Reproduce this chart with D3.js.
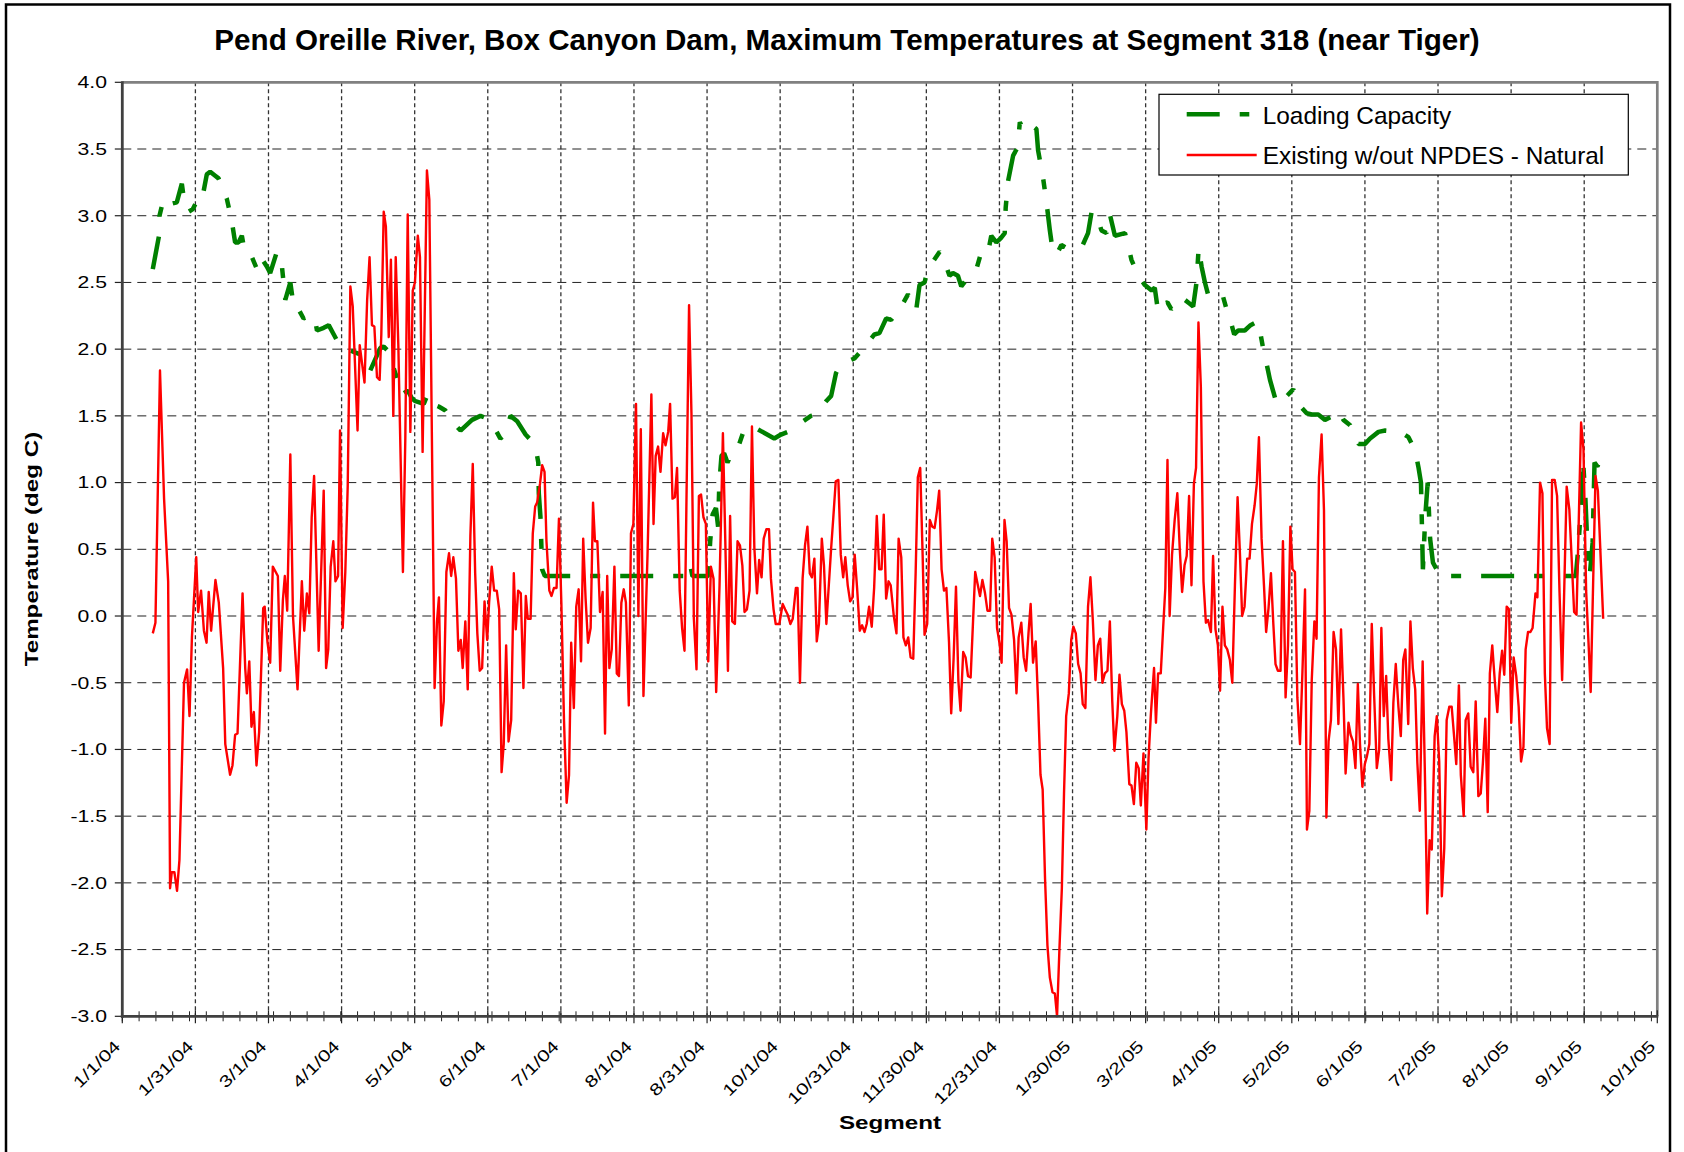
<!DOCTYPE html>
<html>
<head>
<meta charset="utf-8">
<script src="https://cdn.jsdelivr.net/npm/d3@7"></script>
<style>
  body { margin: 0; background: #fff; }
  svg text { font-family: "Liberation Sans", Arial, sans-serif; fill: #000; }
</style>
</head>
<body>
<svg id="chart"></svg>
<script>
// x tick labels (Excel date axis, one label every ~30.45 days from 1/1/04)
const tickLabels = ['1/1/04', '1/31/04', '3/1/04', '4/1/04', '5/1/04', '6/1/04', '7/1/04', '8/1/04',
  '8/31/04', '10/1/04', '10/31/04', '11/30/04', '12/31/04', '1/30/05', '3/2/05', '4/1/05',
  '5/2/05', '6/1/05', '7/2/05', '8/1/05', '9/1/05', '10/1/05'];
const majorStep = 30.45;
const minorStep = 7;
const yTicks = [4.0, 3.5, 3.0, 2.5, 2.0, 1.5, 1.0, 0.5, 0.0, -0.5, -1.0, -1.5, -2.0, -2.5, -3.0];

// [days since 1/1/04, deg C]
const loadingCapacity = [
  [12.7,2.60],[15.3,2.85],[15.5,3.00],[17.1,3.12],[18.5,3.08],[22.7,3.10],[24.8,3.24],[25.7,3.12],
  [27.6,3.03],[29.4,3.05],[31.3,3.12],[33.1,3.11],[35.2,3.31],[36.6,3.33],[38.7,3.30],[40.1,3.28],
  [43.5,3.13],[45.6,2.96],[47.0,2.80],[48.4,2.80],[49.8,2.85],[51.2,2.71],[54.0,2.69],[56.1,2.60],
  [57.7,2.69],[60.2,2.62],[61.6,2.57],[64.4,2.73],[66.5,2.62],[67.9,2.37],[70.0,2.50],[71.4,2.32],
  [72.8,2.32],[75.5,2.23],[78.3,2.25],[80.0,2.25],[81.1,2.14],[83.9,2.16],[86.0,2.18],[88.1,2.11],
  [90.8,2.02],[93.6,2.00],[96.4,1.98],[100.6,1.95],[103.3,1.84],[107.5,2.01],[108.9,2.02],[111.0,1.98],
  [113.7,1.82],[114.4,1.79],[116.5,1.66],[118.9,1.69],[120.7,1.63],[122.1,1.61],[125.6,1.59],[127.2,1.66],
  [129.0,1.59],[131.8,1.57],[134.6,1.54],[138.8,1.43],[140.9,1.39],[145.7,1.47],[149.2,1.50],[152.0,1.48],
  [154.1,1.44],[157.5,1.33],[159.6,1.36],[161.7,1.50],[164.5,1.46],[168.0,1.36],[170.1,1.32],[172.1,1.27],
  [173.3,1.15],[173.5,0.92],[174.2,0.74],[174.9,0.35],[176.0,0.30],[236.0,0.30],[236.6,0.38],[237.5,0.30],
  [244.1,0.30],[244.9,0.56],[245.9,0.76],[247.3,0.81],[248.2,0.67],[248.7,0.99],[249.6,1.20],[250.7,1.22],
  [252.1,1.15],[254.9,1.27],[257.0,1.29],[259.1,1.40],[262.6,1.42],[264.7,1.40],[271.6,1.33],[274.4,1.36],
  [277.2,1.38],[281.3,1.43],[286.9,1.50],[289.0,1.51],[293.2,1.61],[295.3,1.65],[297.3,1.82],[299.4,1.89],
  [302.2,1.91],[305.0,1.93],[308.5,2.00],[313.3,2.11],[315.4,2.12],[318.2,2.23],[320.3,2.22],[323.1,2.28],
  [324.5,2.32],[327.3,2.41],[330.0,2.34],[330.7,2.29],[332.1,2.48],[334.2,2.50],[335.6,2.60],[336.7,2.63],
  [340.5,2.73],[341.9,2.69],[344.6,2.55],[346.0,2.57],[348.1,2.55],[349.5,2.47],[353.7,2.57],[355.8,2.60],
  [357.9,2.73],[360.6,2.72],[362.0,2.85],[364.1,2.80],[365.9,2.83],[367.6,2.87],[368.0,3.06],[369.0,3.26],
  [371.1,3.45],[372.9,3.51],[373.9,3.70],[375.7,3.64],[377.3,3.63],[379.4,3.67],[380.8,3.65],[381.5,3.49],
  [383.6,3.28],[385.0,3.10],[386.4,2.89],[387.8,2.71],[389.8,2.73],[391.2,2.78],[393.3,2.76],[399.6,2.76],
  [402.3,2.87],[403.8,3.03],[405.8,3.01],[407.9,2.89],[410.0,2.87],[411.4,3.01],[413.5,2.85],[417.7,2.87],
  [419.0,2.78],[420.4,2.67],[423.2,2.55],[426.0,2.48],[428.8,2.44],[430.1,2.46],[431.5,2.28],[433.6,2.34],
  [435.4,2.35],[437.0,2.30],[439.1,2.34],[440.5,2.32],[442.6,2.37],[444.7,2.34],[446.1,2.32],[447.5,2.50],
  [448.4,2.76],[449.6,2.62],[451.0,2.50],[452.3,2.41],[454.4,2.44],[456.5,2.43],[458.6,2.39],[460.0,2.30],
  [461.4,2.23],[463.2,2.11],[464.9,2.14],[467.6,2.14],[470.0,2.18],[473.2,2.21],[475.3,2.00],[476.0,1.95],
  [478.1,1.77],[480.9,1.59],[483.0,1.61],[485.7,1.66],[487.8,1.70],[489.9,1.59],[493.4,1.52],[495.5,1.51],
  [498.2,1.51],[501.0,1.47],[504.5,1.50],[506.6,1.54],[508.7,1.47],[511.5,1.43],[512.8,1.36],[515.0,1.29],
  [517.7,1.29],[519.8,1.33],[523.3,1.38],[526.1,1.39],[532.3,1.38],[535.8,1.34],[538.6,1.24],[540.0,1.11],
  [541.0,1.00],[541.8,0.35],[542.8,0.75],[543.8,1.00],[544.8,0.58],[546.0,0.40],[547.5,0.35],[548.5,0.30],
  [605.5,0.30],[606.5,0.50],[607.5,0.78],[608.5,1.17],[609.5,0.88],[610.5,0.45],[611.3,0.30],[612.5,0.55],
  [613.3,1.15],[614.5,1.12],[616.0,1.20],[617.2,1.24]
];

const existingNatural = [
  [12.7,-0.13],[13.8,-0.05],[15.7,1.84],[17.4,0.88],[19.1,0.26],[19.9,-2.04],[20.6,-1.92],[21.7,-1.92],
  [22.8,-2.06],[23.8,-1.83],[25.7,-0.50],[27.0,-0.40],[28.0,-0.75],[29.0,-0.16],[30.8,0.44],[31.6,0.03],
  [32.8,0.19],[34.0,-0.11],[35.1,-0.20],[36.0,0.18],[37.0,-0.11],[38.8,0.27],[40.2,0.10],[42.0,-0.39],
  [42.9,-0.96],[44.9,-1.19],[45.9,-1.12],[47.0,-0.89],[48.0,-0.88],[50.1,0.17],[51.2,-0.39],[51.9,-0.58],
  [52.9,-0.34],[53.8,-0.83],[54.8,-0.72],[55.9,-1.12],[57.0,-0.87],[58.7,0.06],[59.3,0.07],[60.5,-0.20],
  [61.6,-0.35],[62.7,0.37],[64.8,0.30],[65.8,-0.41],[66.9,0.12],[67.7,0.30],[68.7,0.04],[70.0,1.21],
  [71.1,0.00],[73.0,-0.55],[74.8,0.26],[75.8,-0.11],[76.9,0.17],[77.9,0.02],[78.9,0.74],[79.9,1.05],
  [81.8,-0.26],[83.9,0.94],[84.9,-0.39],[85.8,-0.25],[86.8,0.37],[87.9,0.56],[88.8,0.26],[89.9,0.30],
  [90.7,1.39],[91.8,-0.09],[92.9,0.33],[93.9,0.97],[95.0,2.47],[96.0,2.32],[98.0,1.39],[98.9,2.03],
  [99.9,1.89],[100.9,1.75],[102.0,2.37],[103.0,2.69],[104.0,2.18],[105.0,2.17],[106.1,1.79],[107.2,1.77],
  [107.9,2.11],[108.9,3.03],[109.8,2.92],[111.0,2.09],[111.9,2.67],[112.9,1.50],[113.9,2.69],[115.0,2.02],
  [116.9,0.33],[117.9,1.33],[118.9,3.01],[120.0,1.38],[121.0,2.44],[121.9,2.50],[123.1,2.85],[124.0,2.69],
  [125.1,1.23],[126.9,3.34],[127.9,3.12],[130.1,-0.54],[131.1,-0.04],[131.9,0.14],[132.9,-0.82],[133.9,-0.64],
  [135.0,0.33],[136.1,0.47],[137.0,0.30],[137.9,0.44],[139.0,0.28],[140.0,-0.26],[141.0,-0.18],[141.8,-0.39],
  [142.9,-0.04],[143.9,-0.55],[145.0,0.60],[146.0,1.14],[147.0,0.32],[147.9,-0.13],[148.9,-0.41],[149.9,-0.39],
  [150.9,0.11],[152.0,-0.18],[152.8,0.10],[153.9,0.37],[154.9,0.19],[156.0,0.19],[157.0,0.05],[158.0,-1.17],
  [158.9,-0.96],[159.9,-0.22],[160.9,-0.94],[162.0,-0.78],[163.1,0.32],[163.9,-0.10],[164.9,0.19],[166.0,0.17],
  [167.1,-0.54],[168.1,0.15],[168.9,-0.02],[170.1,-0.02],[171.0,0.62],[172.0,0.82],[172.8,0.85],[174.0,0.99],
  [174.9,1.13],[175.9,1.08],[176.7,0.56],[177.9,0.19],[178.8,0.15],[179.8,0.21],[180.9,0.21],[181.9,0.73],
  [182.9,0.10],[184.0,-0.78],[185.1,-1.40],[186.1,-1.19],[187.0,-0.20],[188.1,-0.69],[189.1,0.07],[190.1,0.20],
  [191.1,-0.34],[192.0,0.58],[193.0,0.13],[194.0,-0.20],[195.1,-0.09],[196.1,0.85],[196.9,0.56],[197.9,0.56],
  [199.0,0.03],[200.1,0.18],[201.1,-0.88],[202.0,0.30],[202.9,-0.39],[203.9,-0.25],[205.0,0.37],[206.0,-0.43],
  [206.9,-0.45],[207.9,0.10],[208.9,0.20],[209.8,0.10],[211.0,-0.67],[211.9,0.62],[212.9,0.69],[214.0,1.59],
  [215.0,0.00],[216.0,1.40],[217.1,-0.60],[218.8,0.46],[220.4,1.66],[221.3,0.69],[222.2,1.20],[223.2,1.27],
  [224.2,1.08],[225.3,1.37],[226.3,1.28],[227.4,1.38],[228.2,1.59],[229.2,0.88],[230.2,0.89],[231.1,1.11],
  [232.2,0.19],[233.2,-0.09],[234.2,-0.26],[235.2,1.11],[236.1,2.33],[237.1,1.52],[238.1,-0.02],[239.2,-0.40],
  [240.2,0.90],[241.1,0.91],[242.1,0.74],[243.1,0.69],[244.1,-0.34],[245.2,0.37],[246.3,0.28],[247.4,-0.57],
  [248.8,0.23],[250.2,1.37],[251.2,0.56],[252.3,-0.41],[253.2,0.75],[254.1,-0.04],[255.2,-0.06],[256.3,0.56],
  [257.3,0.53],[258.3,0.38],[259.2,0.03],[260.2,0.05],[261.3,0.19],[262.3,1.42],[263.3,0.51],[264.4,0.17],
  [265.3,0.42],[266.3,0.29],[267.2,0.58],[268.3,0.65],[269.4,0.65],[270.2,0.28],[271.3,0.05],[272.2,-0.06],
  [273.7,-0.06],[275.1,0.09],[276.1,0.05],[277.2,0.01],[278.3,-0.06],[279.3,-0.02],[280.6,0.21],[281.3,0.21],
  [282.3,-0.50],[283.4,0.28],[284.4,0.53],[285.4,0.67],[286.4,0.32],[287.3,0.29],[288.3,0.43],[289.3,-0.19],
  [290.2,-0.06],[291.4,0.58],[292.3,0.38],[293.3,-0.06],[295.3,0.51],[296.2,0.74],[297.2,1.01],[298.3,1.02],
  [299.3,0.46],[300.3,0.29],[301.2,0.44],[302.2,0.23],[303.2,0.11],[304.2,0.14],[305.1,0.46],[306.1,0.21],
  [307.2,-0.11],[308.2,-0.07],[309.2,-0.12],[310.1,-0.06],[311.1,0.07],[312.2,-0.08],[313.2,0.21],[314.3,0.75],
  [315.3,0.35],[316.3,0.35],[317.2,0.76],[318.2,0.13],[319.2,0.26],[320.1,0.23],[321.4,0.00],[322.5,-0.13],
  [323.4,0.58],[324.5,0.44],[325.4,-0.16],[326.4,-0.22],[327.4,-0.16],[328.4,-0.31],[329.5,-0.32],[330.5,0.33],
  [331.4,1.04],[332.4,1.11],[333.4,0.46],[334.2,-0.14],[335.3,-0.06],[336.4,0.72],[337.4,0.67],[338.4,0.66],
  [339.4,0.79],[340.3,0.94],[341.3,0.35],[342.3,0.19],[343.3,0.21],[344.4,-0.20],[345.3,-0.73],[346.3,-0.32],
  [347.3,0.22],[348.3,-0.49],[349.2,-0.71],[350.3,-0.27],[351.3,-0.31],[352.3,-0.45],[353.4,-0.46],[354.4,-0.04],
  [355.3,0.33],[356.3,0.24],[357.3,0.15],[358.3,0.27],[359.4,0.17],[360.4,0.04],[361.5,0.04],[362.4,0.58],
  [363.4,0.44],[364.4,-0.09],[365.4,-0.20],[366.3,-0.35],[367.5,0.72],[368.4,0.56],[369.4,0.06],[370.4,0.01],
  [371.5,-0.18],[372.5,-0.58],[373.4,-0.16],[374.5,-0.05],[375.5,-0.31],[376.5,-0.41],[377.5,-0.13],[378.4,0.09],
  [379.4,-0.35],[380.5,-0.19],[381.5,-0.64],[382.5,-1.19],[383.4,-1.30],[384.4,-1.97],[385.4,-2.47],[386.4,-2.71],
  [387.5,-2.82],[388.5,-2.83],[389.4,-3.00],[390.4,-2.49],[391.4,-2.04],[392.3,-1.33],[393.2,-0.75],[394.3,-0.58],
  [395.3,-0.18],[396.2,-0.08],[397.2,-0.13],[398.2,-0.36],[399.2,-0.43],[400.1,-0.66],[401.2,-0.69],[402.3,0.07],
  [403.3,0.29],[404.3,-0.03],[405.4,-0.48],[406.4,-0.22],[407.4,-0.17],[408.3,-0.50],[409.3,-0.43],[410.4,-0.41],
  [411.4,-0.04],[412.4,-0.64],[413.3,-1.01],[414.5,-0.75],[415.4,-0.44],[416.4,-0.66],[417.4,-0.71],[418.3,-0.87],
  [419.5,-1.26],[420.4,-1.27],[421.4,-1.41],[422.4,-1.10],[423.4,-1.14],[424.3,-1.42],[425.4,-1.03],[426.6,-1.60],
  [427.5,-1.07],[428.5,-0.73],[429.8,-0.39],[430.6,-0.80],[431.5,-0.43],[432.6,-0.43],[433.6,-0.09],[434.5,0.21],
  [435.4,1.17],[436.3,0.00],[437.3,0.46],[438.4,0.72],[439.5,0.92],[440.5,0.51],[441.5,0.18],[442.5,0.38],
  [443.4,0.45],[444.4,0.90],[445.4,0.23],[446.4,0.99],[447.3,1.11],[448.3,2.20],[449.3,1.72],[450.4,0.26],
  [451.4,-0.05],[452.3,-0.03],[453.5,-0.12],[454.4,0.45],[455.4,-0.10],[456.4,-0.22],[457.3,-0.56],[458.3,0.07],
  [459.3,-0.22],[460.3,-0.25],[461.4,-0.33],[462.4,-0.50],[463.5,0.23],[464.6,0.89],[465.6,0.46],[466.5,0.00],
  [467.5,0.07],[468.6,0.43],[469.6,0.43],[470.6,0.69],[471.7,0.83],[472.6,0.99],[473.5,1.34],[474.6,0.58],
  [475.6,0.23],[476.5,-0.12],[477.5,0.06],[478.5,0.32],[479.5,-0.06],[480.4,-0.36],[481.4,-0.41],[482.5,-0.41],
  [483.5,0.56],[484.6,-0.61],[485.6,-0.22],[486.6,0.67],[487.5,0.35],[488.5,0.33],[489.5,-0.61],[490.6,-0.96],
  [491.6,-0.43],[492.7,0.20],[493.5,-1.60],[494.5,-1.46],[495.5,-0.48],[496.6,-0.04],[497.5,-0.17],[498.5,1.04],
  [499.6,1.36],[500.6,0.79],[501.6,-1.51],[502.5,-0.94],[503.5,-0.78],[504.6,-0.12],[505.6,-0.25],[506.6,-0.81],
  [507.7,-0.10],[508.7,-0.61],[509.6,-1.18],[510.8,-0.80],[511.7,-0.89],[512.7,-0.94],[513.7,-1.14],[514.7,-0.51],
  [515.6,-0.96],[516.6,-1.28],[517.6,-1.11],[518.5,-1.05],[519.5,-0.96],[520.5,-0.06],[521.5,-0.60],[522.6,-1.14],
  [523.6,-1.00],[524.5,-0.09],[525.5,-0.75],[526.5,-0.45],[527.4,-0.92],[528.6,-1.23],[529.5,-0.65],[530.5,-0.36],
  [531.6,-0.68],[532.6,-0.90],[533.6,-0.33],[534.5,-0.25],[535.7,-0.81],[536.6,-0.04],[537.6,-0.39],[538.6,-0.55],
  [539.5,-1.10],[540.5,-1.46],[541.7,-0.34],[542.8,-1.33],[543.6,-2.23],[544.6,-1.68],[545.5,-1.75],[546.7,-0.90],
  [547.6,-0.75],[548.6,-1.09],[549.7,-2.10],[550.7,-1.74],[551.7,-0.78],[552.8,-0.68],[553.8,-0.68],[554.7,-0.88],
  [555.7,-1.11],[556.8,-0.52],[557.6,-1.19],[558.8,-1.50],[559.6,-0.78],[560.7,-0.73],[561.7,-1.13],[562.8,-1.17],
  [563.8,-0.64],[564.9,-1.35],[565.9,-1.33],[566.8,-1.10],[567.8,-0.77],[568.8,-1.47],[569.7,-0.43],[570.7,-0.22],
  [571.8,-0.50],[572.8,-0.72],[573.8,-0.43],[574.8,-0.26],[575.7,-0.44],[576.7,0.07],[577.7,0.05],[578.6,-0.80],
  [579.6,-0.31],[580.7,-0.45],[581.7,-0.68],[582.7,-1.09],[583.7,-0.98],[584.6,-0.25],[585.6,-0.12],[586.6,-0.12],
  [587.5,-0.09],[588.7,0.17],[589.5,0.14],[590.6,1.00],[591.6,0.92],[592.6,-0.43],[593.5,-0.84],[594.6,-0.96],
  [595.6,1.02],[596.7,1.02],[597.7,0.90],[598.7,0.19],[599.8,-0.48],[600.8,0.29],[601.7,0.97],[602.8,0.80],
  [603.8,0.42],[604.8,0.03],[605.8,0.01],[606.7,0.69],[607.7,1.45],[608.7,1.25],[609.8,0.19],[610.8,-0.20],
  [611.7,-0.57],[612.7,0.23],[613.7,1.05],[614.7,0.94],[615.8,0.46],[616.9,-0.02]
];

const width = 1684;
const height = 1152;
const plot = {left: 122.3, right: 1657.3, top: 82.3, bottom: 1016.3};
const axisStretch = 1.3; // axis text in the original is drawn wide

const svg = d3.select('#chart')
  .attr('width', width)
  .attr('height', height);

svg.append('rect')
  .attr('width', width).attr('height', height)
  .attr('fill', '#fff');

// outer chart border
svg.append('rect')
  .attr('x', 6).attr('y', 4.5)
  .attr('width', 1664).attr('height', 1200)
  .attr('fill', 'none')
  .attr('stroke', '#000')
  .attr('stroke-width', 2.5);

const xScale = d3.scaleLinear()
  .domain([0, (tickLabels.length - 1) * majorStep])
  .range([plot.left, plot.right]);

const yScale = d3.scaleLinear()
  .domain([-3, 4])
  .range([plot.bottom, plot.top]);

const majorDays = tickLabels.map((d, i) => i * majorStep);
const minorDays = d3.range(0, xScale.domain()[1], minorStep);

// gridlines
svg.append('g').selectAll('line')
  .data(yTicks.filter(v => v < 4 && v > -3))
  .enter().append('line')
  .attr('x1', plot.left).attr('x2', plot.right)
  .attr('y1', d => yScale(d)).attr('y2', d => yScale(d))
  .attr('stroke', '#222')
  .attr('stroke-width', 1)
  .attr('stroke-dasharray', '9,6');

svg.append('g').selectAll('line')
  .data(majorDays.slice(1, -1))
  .enter().append('line')
  .attr('x1', d => xScale(d)).attr('x2', d => xScale(d))
  .attr('y1', plot.top).attr('y2', plot.bottom)
  .attr('stroke', '#333')
  .attr('stroke-width', 1.3)
  .attr('stroke-dasharray', '4,3');

// plot frame (top / right)
svg.append('path')
  .attr('d', `M${plot.left},${plot.top}H${plot.right}V${plot.bottom}`)
  .attr('fill', 'none')
  .attr('stroke', '#808080')
  .attr('stroke-width', 2.7);

// series
const line = d3.line()
  .x(d => xScale(d[0]))
  .y(d => yScale(d[1]));

svg.append('path')
  .datum(loadingCapacity)
  .attr('d', line)
  .attr('fill', 'none')
  .attr('stroke', '#008000')
  .attr('stroke-width', 4.5)
  .attr('stroke-linejoin', 'bevel')
  .attr('stroke-dasharray', '33,20,10,20');

svg.append('path')
  .datum(existingNatural)
  .attr('d', line)
  .attr('fill', 'none')
  .attr('stroke', '#ff0000')
  .attr('stroke-width', 2.4)
  .attr('stroke-linejoin', 'round');

// axes
svg.append('g').selectAll('line')
  .data(minorDays)
  .enter().append('line')
  .attr('x1', d => xScale(d)).attr('x2', d => xScale(d))
  .attr('y1', plot.bottom - 5).attr('y2', plot.bottom + 5)
  .attr('stroke', '#222').attr('stroke-width', 1);

svg.append('g').selectAll('line')
  .data(majorDays)
  .enter().append('line')
  .attr('x1', d => xScale(d)).attr('x2', d => xScale(d))
  .attr('y1', plot.bottom - 6).attr('y2', plot.bottom + 7)
  .attr('stroke', '#222').attr('stroke-width', 1.2);

svg.append('g').selectAll('line')
  .data(yTicks)
  .enter().append('line')
  .attr('x1', plot.left - 7.5).attr('x2', plot.left)
  .attr('y1', d => yScale(d)).attr('y2', d => yScale(d))
  .attr('stroke', '#222').attr('stroke-width', 1.2);

svg.append('line')
  .attr('x1', plot.left).attr('x2', plot.left)
  .attr('y1', plot.top - 1).attr('y2', plot.bottom + 1.5)
  .attr('stroke', '#404040').attr('stroke-width', 2.8);

svg.append('line')
  .attr('x1', plot.left - 1.4).attr('x2', plot.right + 1)
  .attr('y1', plot.bottom).attr('y2', plot.bottom)
  .attr('stroke', '#404040').attr('stroke-width', 2.8);

// tick labels
svg.append('g').selectAll('text')
  .data(yTicks)
  .enter().append('text')
  .attr('transform', d => `translate(107,${yScale(d) + 5.8}) scale(${axisStretch},1)`)
  .attr('text-anchor', 'end')
  .style('font-size', '16.3px')
  .text(d => d.toFixed(1));

svg.append('g').selectAll('text')
  .data(tickLabels)
  .enter().append('text')
  .attr('transform', (d, i) => `translate(${xScale(majorDays[i]) - 1},${plot.bottom + 31}) rotate(-45) scale(${axisStretch},1)`)
  .attr('text-anchor', 'end')
  .style('font-size', '16.3px')
  .text(d => d);

// titles
svg.append('text')
  .attr('x', 847).attr('y', 50.3)
  .attr('text-anchor', 'middle')
  .style('font-size', '29.6px')
  .style('font-weight', 'bold')
  .text('Pend Oreille River, Box Canyon Dam, Maximum Temperatures at Segment 318 (near Tiger)');

svg.append('text')
  .attr('transform', `translate(38.3,549) rotate(-90) scale(${axisStretch},1)`)
  .attr('text-anchor', 'middle')
  .style('font-size', '18.6px')
  .style('font-weight', 'bold')
  .text('Temperature (deg C)');

svg.append('text')
  .attr('transform', `translate(890,1129) scale(${axisStretch},1)`)
  .attr('text-anchor', 'middle')
  .style('font-size', '18.6px')
  .style('font-weight', 'bold')
  .text('Segment');

// legend
const legend = svg.append('g');
legend.append('rect')
  .attr('x', 1159).attr('y', 94.3)
  .attr('width', 469.3).attr('height', 80.7)
  .attr('fill', '#fff')
  .attr('stroke', '#000')
  .attr('stroke-width', 1.2);

legend.append('line')
  .attr('x1', 1186.7).attr('x2', 1249.3)
  .attr('y1', 114.3).attr('y2', 114.3)
  .attr('stroke', '#008000')
  .attr('stroke-width', 4.5)
  .attr('stroke-dasharray', '33,20,10,20');

legend.append('line')
  .attr('x1', 1186.7).attr('x2', 1256.7)
  .attr('y1', 155).attr('y2', 155)
  .attr('stroke', '#ff0000')
  .attr('stroke-width', 2.4);

legend.selectAll('text.item')
  .data(['Loading Capacity', 'Existing w/out NPDES - Natural'])
  .enter().append('text')
  .attr('class', 'item')
  .attr('x', 1262.7)
  .attr('y', (d, i) => i === 0 ? 124.3 : 163.7)
  .style('font-size', '24.4px')
  .text(d => d);
</script>
</body>
</html>
